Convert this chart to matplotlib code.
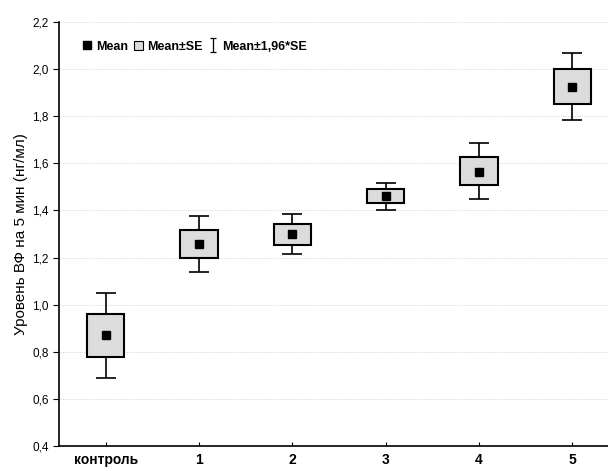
import matplotlib.pyplot as plt
from matplotlib.lines import Line2D
from matplotlib.patches import Patch
from matplotlib.path import Path

plt.rcParams['font.family'] = ['Liberation Sans', 'DejaVu Sans']

groups = ["контроль", "1", "2", "3", "4", "5"]
mean = [0.871, 1.257, 1.300, 1.461, 1.562, 1.924]
se_lo = [0.778, 1.196, 1.255, 1.431, 1.508, 1.852]
se_hi = [0.962, 1.318, 1.342, 1.490, 1.626, 2.000]
ci_lo = [0.689, 1.140, 1.215, 1.402, 1.448, 1.784]
ci_hi = [1.049, 1.376, 1.385, 1.518, 1.686, 2.068]

fig = plt.figure(figsize=(6.08, 4.71), dpi=100)
# right end of the axis falls just outside the picture, as in the source
ax = fig.add_axes([59 / 608, 25 / 471, 560 / 608, 424 / 471])

x = list(range(len(groups)))
err = [[m - l for m, l in zip(mean, ci_lo)], [h - m for m, h in zip(mean, ci_hi)]]
ax.errorbar(x, mean, yerr=err, fmt="none", ecolor="black", elinewidth=1.2,
            capsize=7.2, capthick=1.2, zorder=2)
ax.bar(x, [h - l for h, l in zip(se_hi, se_lo)], bottom=se_lo, width=0.4,
       color="#dcdcdc", edgecolor="black", linewidth=1.5, zorder=3)
ax.plot(x, mean, "s", color="black", markersize=5.5, zorder=4)

ax.set_xlim(-0.5, 5.5)
ax.set_ylim(0.4, 2.2)
ax.set_xticks(x)
ax.set_xticklabels(groups, fontweight="bold", fontsize=10)
yt = [0.4 + 0.2 * i for i in range(10)]
ax.set_yticks(yt)
ax.set_yticklabels([f"{v:.1f}".replace(".", ",") for v in yt], fontsize=8.5)
ax.tick_params(axis="x", direction="in", length=3, pad=5)
ax.tick_params(axis="y", direction="out", length=4)
ax.yaxis.grid(True, linestyle=(0, (1, 1.5)), color="#c0c0c0", linewidth=0.5)
ax.set_axisbelow(True)
for s in ["top", "right"]:
    ax.spines[s].set_visible(False)
ax.spines["left"].set_linewidth(1.2)
ax.spines["bottom"].set_linewidth(1.2)
ax.set_ylabel("Уровень ВФ на 5 мин (нг/мл)", fontsize=11, labelpad=3)

ibeam = Path([(-0.5, -1), (0.5, -1), (0, -1), (0, 1), (-0.5, 1), (0.5, 1)],
             [Path.MOVETO, Path.LINETO, Path.MOVETO, Path.LINETO, Path.MOVETO, Path.LINETO])
handles = [
    Line2D([], [], marker="s", color="black", linestyle="none", markersize=6),
    Patch(facecolor="#dcdcdc", edgecolor="black", linewidth=0.8),
    Line2D([], [], marker=ibeam, color="black", linestyle="none", markersize=10,
           markeredgewidth=0.9),
]
ax.legend(handles, ["Mean", "Mean±SE", "Mean±1,96*SE"], ncol=3, frameon=False,
          loc="upper left", bbox_to_anchor=(0.027, 0.977),
          prop={"weight": "bold", "size": 9}, handlelength=0.7, handletextpad=0.35,
          columnspacing=0.5, borderaxespad=0.3)

fig.savefig("out.png", dpi=100)
